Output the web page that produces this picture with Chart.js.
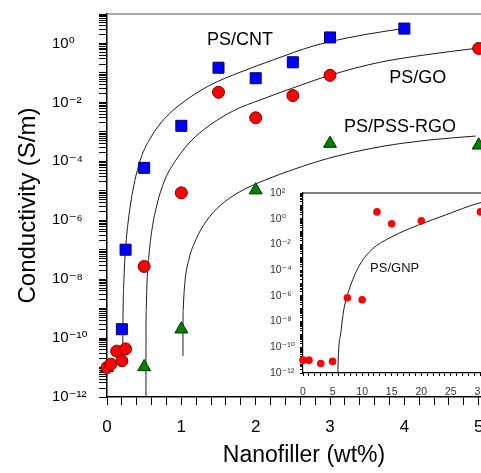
<!DOCTYPE html>
<html>
<head>
<meta charset="utf-8">
<script src="https://cdn.jsdelivr.net/npm/chart.js@4/dist/chart.umd.min.js"></script>
<style>
  html, body { margin: 0; padding: 0; background: #fff; overflow: hidden; width: 481px; height: 473px; }
  #main { position: absolute; left: 0; top: 0; }
  #inset { position: absolute; left: 260px; top: 180px; }
</style>
</head>
<body>
<canvas id="main" width="540" height="473"></canvas>
<canvas id="inset" width="260" height="222"></canvas>
<script>
// ---------------- DATA (main chart) ----------------
const cntX = [0.2, 0.25, 0.5, 1, 1.5, 2, 2.5, 3, 4];
const cntY = [2e-10, 1e-7, 6e-5, 1.6e-3, 0.15, 0.066, 0.23, 1.6, 3.2];

const goX = [0, 0.05, 0.13, 0.2, 0.25, 0.5, 1, 1.5, 2, 2.5, 3, 5];
const goY = [1e-11, 1.3e-11, 3.6e-11, 1.7e-11, 4.3e-11, 2.7e-8, 8.5e-6, 0.022, 3e-3, 0.017, 0.083, 0.68];

const rgoX = [0, 0.5, 1, 2, 3, 5];
const rgoY = [9.7e-12, 1.05e-11, 2e-10, 1.05e-5, 4e-4, 3.5e-4];

// fitted curves
const cntCurveX = [0.212, 0.215, 0.228, 0.255, 0.296, 0.363, 0.457, 0.591, 0.780, 1.022, 1.384, 1.788, 2.258, 2.796, 3.40, 3.978];
const cntCurveY = [3.4e-11, 4.4e-10, 9.8e-9, 1.5e-7, 1.5e-6, 1.6e-5, 1.3e-4, 6.6e-4, 2.9e-3, 1.0e-2, 3.8e-2, 0.105, 0.29, 0.85, 1.86, 3.2];

const goCurveX = [0.524, 0.5245, 0.528, 0.538, 0.565, 0.605, 0.672, 0.780, 0.927, 1.116, 1.384, 1.720, 2.056, 2.487, 2.997, 3.669, 4.341, 4.960];
const goCurveY = [1e-12, 9.3e-11, 9.5e-10, 7.8e-9, 6.9e-8, 4.8e-7, 3.4e-6, 2.4e-5, 1.1e-4, 4.5e-4, 1.7e-3, 5.5e-3, 1.2e-2, 3.0e-2, 8.3e-2, 0.23, 0.43, 0.68];

const rgoCurveX = [1.022, 1.0225, 1.026, 1.048, 1.102, 1.196, 1.331, 1.519, 1.788, 2.124, 2.527, 2.997, 3.669, 4.341, 4.960];
const rgoCurveY = [2.5e-11, 2e-10, 9.5e-10, 7.8e-9, 4.7e-8, 2.2e-7, 9e-7, 3.1e-6, 9.3e-6, 2.3e-5, 5.5e-5, 1.3e-4, 3.1e-4, 5.3e-4, 7.2e-4];

const xTickLabels = ['0', '1', '2', '3', '4', '5'];
const yTickValues = [1e-12, 1e-10, 1e-8, 1e-6, 1e-4, 1e-2, 1];
const yTickLabels = ['10⁻¹²', '10⁻¹⁰', '10⁻⁸', '10⁻⁶', '10⁻⁴', '10⁻²', '10⁰'];

const seriesLabels = ['PS/CNT', 'PS/GO', 'PS/PSS-RGO'];

// ---------------- DATA (inset) ----------------
const gnpX = [0, 1, 3, 5, 7.5, 10, 12.5, 15, 20, 30];
const gnpY = [1e-11, 1e-11, 5.5e-12, 8e-12, 7.2e-7, 5e-7, 3.4, 0.4, 0.68, 3.4];
const gnpCurveX = [5.9, 5.95, 6.4, 6.9, 7.8, 9.4, 11.6, 15, 19.6, 24.1, 29.8, 33];
const gnpCurveY = [1e-12, 1e-11, 1.4e-9, 8.5e-8, 3e-6, 1.8e-4, 3.8e-3, 0.039, 0.33, 1.95, 16.6, 30];
const insetXTickLabels = ['0', '5', '10', '15', '20', '25', '30'];
const insetYTickValues = [1e-12, 1e-10, 1e-8, 1e-6, 1e-4, 1e-2, 1, 100];
const insetYTickLabels = ['10⁻¹²', '10⁻¹⁰', '10⁻⁸', '10⁻⁶', '10⁻⁴', '10⁻²', '10⁰', '10²'];
const insetLabel = 'PS/GNP';

// ---------------- helpers ----------------
const FONT = '"Liberation Sans", Arial, "DejaVu Sans", sans-serif';
const pts = (xs, ys) => xs.map((x, i) => ({ x: x, y: ys[i] }));
function logTicks(eMin, eMax) {
  const out = [];
  for (let e = eMin; e < eMax; e++) for (let m = 1; m <= 9; m++) out.push(m * Math.pow(10, e));
  out.push(Math.pow(10, eMax));
  return out;
}
function logLabel(vals, labels) {
  return (v) => {
    for (let i = 0; i < vals.length; i++) if (Math.abs(Math.log10(v) - Math.log10(vals[i])) < 1e-6) return labels[i];
    return '';
  };
}
function linTicks(min, max, step) {
  const out = [];
  for (let v = min; v <= max + 1e-9; v += step) out.push(Math.round(v * 1000) / 1000);
  return out;
}

// ---------------- main chart ----------------
const annotMain = {
  id: 'annotMain',
  afterDraw(chart) {
    const ctx = chart.ctx, a = chart.chartArea;
    const xs = chart.scales.x, ys = chart.scales.y;
    ctx.save();
    ctx.strokeStyle = '#8a8a8a'; ctx.lineWidth = 1.5;
    ctx.beginPath(); ctx.moveTo(a.left, a.top); ctx.lineTo(a.right, a.top); ctx.stroke();
    ctx.fillStyle = '#000'; ctx.textAlign = 'center'; ctx.textBaseline = 'middle';
    ctx.font = '18px ' + FONT;
    const pos = [{ x: 1.79, y: 1.26 }, { x: 4.18, y: 0.066 }, { x: 3.94, y: 1.45e-3 }];
    seriesLabels.forEach((t, i) => ctx.fillText(t, xs.getPixelForValue(pos[i].x), ys.getPixelForValue(pos[i].y)));
    ctx.translate(28, (a.top + a.bottom) / 2);
    ctx.rotate(-Math.PI / 2);
    ctx.font = '24px ' + FONT;
    ctx.fillText('Conductivity (S/m)', 0, 0);
    ctx.restore();
  }
};

const curveStyle = { type: 'line', borderColor: '#1a1a1a', borderWidth: 1, pointRadius: 0, cubicInterpolationMode: 'monotone', fill: false, order: 2 };
const markerBase = { type: 'scatter', showLine: false, borderWidth: 1, clip: false, order: 0 };

new Chart(document.getElementById('main'), {
  data: {
    datasets: [
      Object.assign({}, markerBase, { label: seriesLabels[0], data: pts(cntX, cntY), pointStyle: 'rect', pointRadius: 7.8, backgroundColor: '#0000ff', borderColor: '#000060' }),
      Object.assign({}, markerBase, { label: seriesLabels[1], data: pts(goX, goY), pointStyle: 'circle', pointRadius: 6, backgroundColor: '#ff0000', borderColor: '#700000' }),
      Object.assign({}, markerBase, { label: seriesLabels[2], data: pts(rgoX, rgoY), pointStyle: 'triangle', pointRadius: 7.5, backgroundColor: '#008000', borderColor: '#003300' }),
      Object.assign({}, curveStyle, { label: 'fit CNT', data: pts(cntCurveX, cntCurveY) }),
      Object.assign({}, curveStyle, { label: 'fit GO', data: pts(goCurveX, goCurveY) }),
      Object.assign({}, curveStyle, { label: 'fit RGO', data: pts(rgoCurveX, rgoCurveY) })
    ]
  },
  options: {
    responsive: false, animation: false, devicePixelRatio: 1,
    layout: { padding: { left: 52, top: 14, right: 39, bottom: 0 } },
    plugins: { legend: { display: false }, tooltip: { enabled: false } },
    scales: {
      x: {
        type: 'linear', min: 0, max: 5.3,
        afterFit: (s) => { s.height = 76; },
        afterBuildTicks: (s) => { s.ticks = linTicks(0, 5.2, 0.2).map(v => ({ value: v })); },
        ticks: {
          autoSkip: false, maxRotation: 0, padding: 12, color: '#000', font: { size: 17, family: FONT },
          callback: (v) => { const r = Math.round(v); return Math.abs(v - r) < 1e-6 && r < xTickLabels.length ? xTickLabels[r] : ''; }
        },
        grid: { drawOnChartArea: false, tickLength: 8, tickColor: '#000', tickWidth: 1 },
        border: { color: '#000', width: 1.5 },
        title: { display: true, text: 'Nanofiller (wt%)', color: '#000', font: { size: 23, family: FONT }, padding: { top: 0, bottom: 4 } }
      },
      y: {
        type: 'logarithmic', min: 1e-12, max: 10,
        afterFit: (s) => { s.width = 55; },
        afterBuildTicks: (s) => { s.ticks = logTicks(-12, 1).map(v => ({ value: v })); },
        ticks: { autoSkip: false, crossAlign: 'far', padding: 0, color: '#000', font: { size: 15, family: FONT }, callback: logLabel(yTickValues, yTickLabels) },
        grid: { drawOnChartArea: false, tickLength: 8, tickColor: '#000', tickWidth: 1 },
        border: { color: '#000', width: 1.5 }
      }
    }
  },
  plugins: [annotMain]
});

// ---------------- inset chart ----------------
const annotInset = {
  id: 'annotInset',
  afterDraw(chart) {
    const ctx = chart.ctx, a = chart.chartArea;
    const xs = chart.scales.x, ys = chart.scales.y;
    ctx.save();
    ctx.strokeStyle = '#000'; ctx.lineWidth = 1.2;
    ctx.beginPath(); ctx.moveTo(a.left, a.top); ctx.lineTo(a.right, a.top); ctx.stroke();
    ctx.fillStyle = '#111'; ctx.textAlign = 'center'; ctx.textBaseline = 'middle';
    ctx.font = '13px ' + FONT;
    ctx.fillText(insetLabel, xs.getPixelForValue(15.5), ys.getPixelForValue(1.3e-4));
    ctx.restore();
  }
};

new Chart(document.getElementById('inset'), {
  data: {
    datasets: [
      { type: 'scatter', label: insetLabel, data: pts(gnpX, gnpY), pointStyle: 'circle', pointRadius: 3.8, backgroundColor: '#ff0000', borderColor: '#ff0000', borderWidth: 0, clip: false, order: 0 },
      Object.assign({}, curveStyle, { label: 'fit GNP', data: pts(gnpCurveX, gnpCurveY) })
    ]
  },
  options: {
    responsive: false, animation: false, devicePixelRatio: 1,
    layout: { padding: { left: 10, top: 13, right: 9, bottom: 0 } },
    plugins: { legend: { display: false }, tooltip: { enabled: false } },
    scales: {
      x: {
        type: 'linear', min: 0, max: 35,
        afterFit: (s) => { s.height = 29; },
        afterBuildTicks: (s) => { s.ticks = linTicks(0, 35, 1).map(v => ({ value: v })); },
        ticks: {
          autoSkip: false, maxRotation: 0, padding: 10, color: '#333', font: { size: 10.5, family: FONT },
          callback: (v) => { const r = Math.round(v); return r % 5 === 0 && r / 5 < insetXTickLabels.length ? insetXTickLabels[r / 5] : ''; }
        },
        grid: { drawOnChartArea: false, tickLength: 3, tickColor: '#000', tickWidth: 1 },
        border: { color: '#000', width: 1.2 }
      },
      y: {
        type: 'logarithmic', min: 1e-12, max: 100,
        afterFit: (s) => { s.width = 33; },
        afterBuildTicks: (s) => { s.ticks = logTicks(-12, 2).map(v => ({ value: v })); },
        ticks: { autoSkip: false, crossAlign: 'far', padding: 0, color: '#333', font: { size: 10.5, family: FONT }, callback: logLabel(insetYTickValues, insetYTickLabels) },
        grid: { drawOnChartArea: false, tickLength: 3, tickColor: '#000', tickWidth: 1 },
        border: { color: '#000', width: 1.2 }
      }
    }
  },
  plugins: [annotInset]
});
</script>
</body>
</html>
